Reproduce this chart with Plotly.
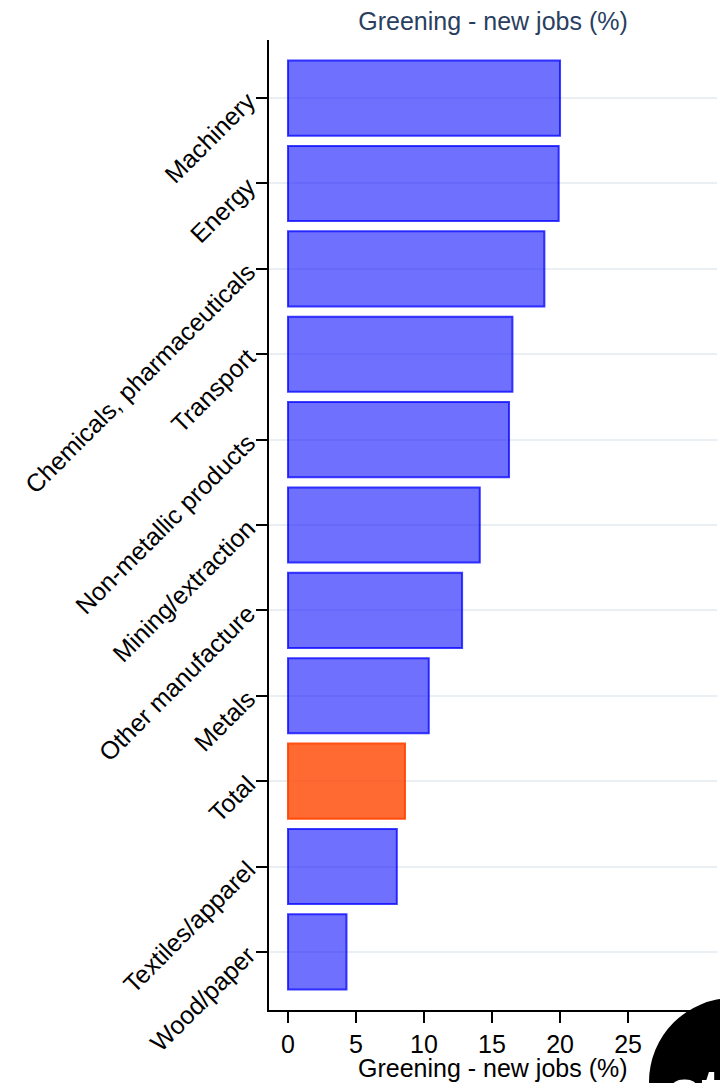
import plotly.graph_objects as go

# Data (top to bottom in the chart)
categories = ["Machinery", "Energy", "Chemicals, pharmaceuticals", "Transport",
              "Non-metallic products", "Mining/extraction", "Other manufacture",
              "Metals", "Total", "Textiles/apparel", "Wood/paper"]
values = [20.0, 19.9, 18.85, 16.5, 16.25, 14.1, 12.8, 10.35, 8.6, 8.0, 4.3]
highlight = "Total"
axis_title = "Greening - new jobs (%)"

W, H = 728, 1083
L, R, T, B = 261, 19, 32, 81

fill = ["rgba(255,69,0,0.8)" if c == highlight else "rgba(0,0,255,0.56)" for c in categories]
edge = ["rgba(255,69,0,0.9)" if c == highlight else "rgba(0,0,255,0.75)" for c in categories]

fig = go.Figure(go.Bar(
    x=values, y=categories, orientation="h",
    marker=dict(color=fill, line=dict(color=edge, width=2)),
    width=0.88,
))

font = "Liberation Sans, Arial, sans-serif"
fig.update_layout(
    width=W, height=H,
    margin=dict(l=L, r=R, t=T, b=B),
    plot_bgcolor="white", paper_bgcolor="white",
    showlegend=False,
    font=dict(family=font, size=25, color="black"),
    title=dict(text=axis_title, x=0.5, xref="paper",
               y=1 - 13 / H, yref="container", yanchor="middle",
               font=dict(family=font, size=25, color="#2a3f5f")),
)
fig.update_xaxes(
    range=[-1.397, 31.54], tickvals=[0, 5, 10, 15, 20, 25, 30],
    showgrid=False, zeroline=False,
    showline=True, linecolor="black", linewidth=2,
    ticks="outside", ticklen=11, tickwidth=2, tickcolor="black",
    tickfont=dict(size=25, color="black"),
)
fig.update_yaxes(
    categoryorder="array", categoryarray=categories[::-1],
    range=[-0.68, 10.68],
    showgrid=True, gridcolor="#E9EFF2", gridwidth=2,
    zeroline=False,
    showline=True, linecolor="black", linewidth=2,
    ticks="outside", ticklen=11, tickwidth=2, tickcolor="black",
    tickangle=-45, tickfont=dict(size=25, color="black"),
    ticklabelstandoff=3,
)

pw, ph = W - L - R, H - T - B
def px(x):
    return (x - L) / pw
def py(y):
    return (H - B - y) / ph

# x-axis title placed as an annotation
fig.add_annotation(text=axis_title, xref="paper", yref="paper",
                   x=0.5, y=py(1060), xanchor="center", yanchor="middle",
                   showarrow=False, font=dict(family=font, size=25, color="black"))

# decorative badge in the lower right corner
cx, cy, r = 725, 1074, 84
fig.add_shape(type="circle", xref="paper", yref="paper",
              x0=px(cx - r), x1=px(cx + r), y0=py(cy + r), y1=py(cy - r),
              fillcolor="black", line=dict(color="black", width=0), layer="above")
fig.add_annotation(text="<b>st</b>", xref="paper", yref="paper",
                   x=px(658), y=py(1047), xanchor="left", yanchor="top",
                   showarrow=False, font=dict(family=font, size=60, color="white"))

fig.write_html("out.html")
